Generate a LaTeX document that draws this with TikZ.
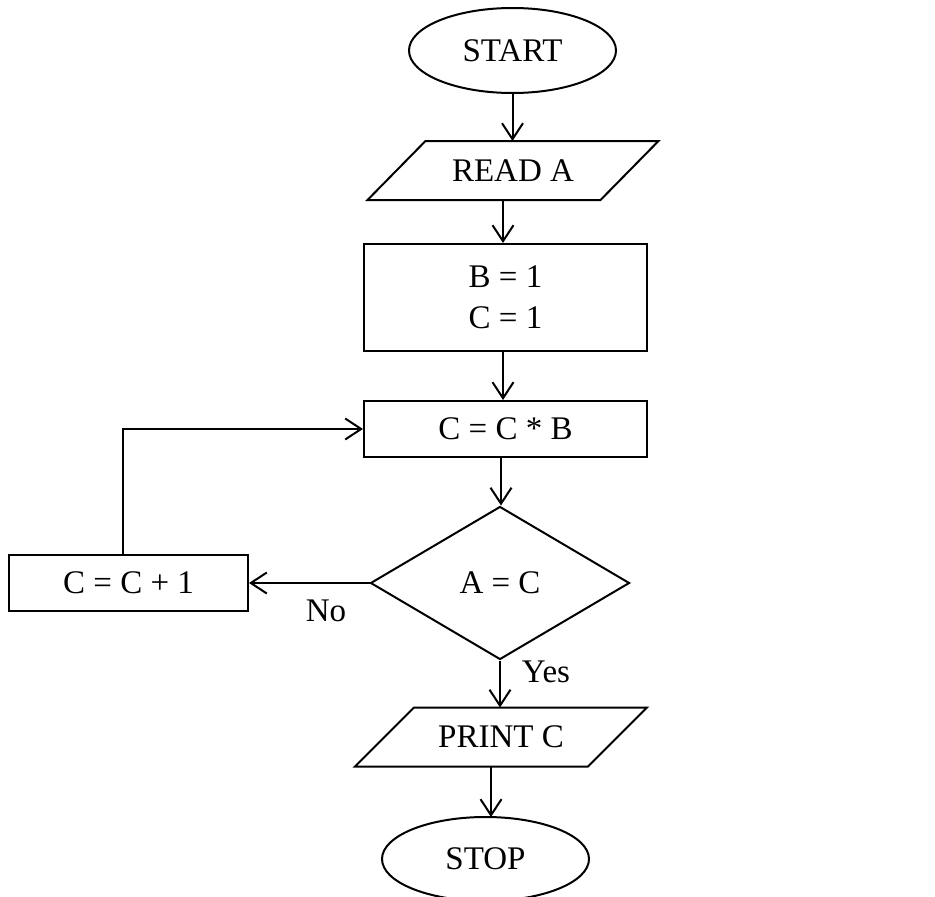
\documentclass[tikz,border=0pt]{standalone}
\usepackage{fontspec}
\setmainfont{Liberation Serif}
\usetikzlibrary{shapes.geometric,arrows.meta}
\tikzset{
  base/.style={inner sep=0pt, font=\fontsize{33}{41}\selectfont, line width=2pt},
  term/.style={base, draw, ellipse, minimum width=207pt, minimum height=85pt},
  procbox/.style={base, draw, rectangle, minimum height=56pt},
  iobox/.style={base, rectangle, minimum width=231pt, minimum height=57pt},
  decision/.style={base, draw, diamond, minimum width=259pt, minimum height=153pt},
  lbl/.style={base},
  arr/.style={line width=2pt, -{Straight Barb[length=16pt,width=21pt,line width=2pt]}},
  line/.style={line width=2pt},
}
\begin{document}
\begin{tikzpicture}[x=1pt,y=-1pt]
\useasboundingbox (0,0) rectangle (935,897);
% nodes
\node[term] (start) at (512.5,50.5) {START};
\node[iobox] (readA) at (513,170.5) {READ A};
\draw[line] ([xshift=29pt]readA.north west) -- ([xshift=29pt]readA.north east)
  -- ([xshift=-29pt]readA.south east) -- ([xshift=-29pt]readA.south west) -- cycle;
\node[procbox, minimum width=283pt, minimum height=107pt, align=center] (init) at (505.5,297.5) {B = 1\\C = 1};
\node[procbox, minimum width=283pt] (mult) at (505.5,429) {C = C * B};
\node[decision] (test) at (500,583) {A = C};
\node[procbox, minimum width=239pt] (inc) at (128.5,583) {C = C + 1};
\node[iobox] (print) at (501,737) {PRINT C};
\draw[line] ([xshift=29.5pt]print.north west) -- ([xshift=29.5pt]print.north east)
  -- ([xshift=-29.5pt]print.south east) -- ([xshift=-29.5pt]print.south west) -- cycle;
\node[term, minimum height=84pt] (stop) at (485.5,859) {STOP};
\node[lbl] (no) at (326,611) {No};
\node[lbl] (yes) at (546,672) {Yes};
% connectors
\draw[arr] (start.south) -- (start.south |- readA.north);
\draw[arr] ([xshift=-10pt]readA.south) -- ([xshift=-10pt]readA.south |- init.north);
\draw[arr] ([xshift=-2.5pt]init.south) -- ([xshift=-2.5pt]mult.north);
\draw[arr] ([xshift=-4.5pt]mult.south) -- ([xshift=-4.5pt]mult.south |- test.north);
\draw[arr] (test.west) -- (inc.east);
\draw[arr] ([xshift=-5.5pt]inc.north) |- (mult.west);
\draw[arr] (test.south) -- (test.south |- print.north);
\draw[arr] ([xshift=-10pt]print.south) -- ([xshift=-10pt,yshift=-1pt]print.south |- stop.north);
\end{tikzpicture}
\end{document}
